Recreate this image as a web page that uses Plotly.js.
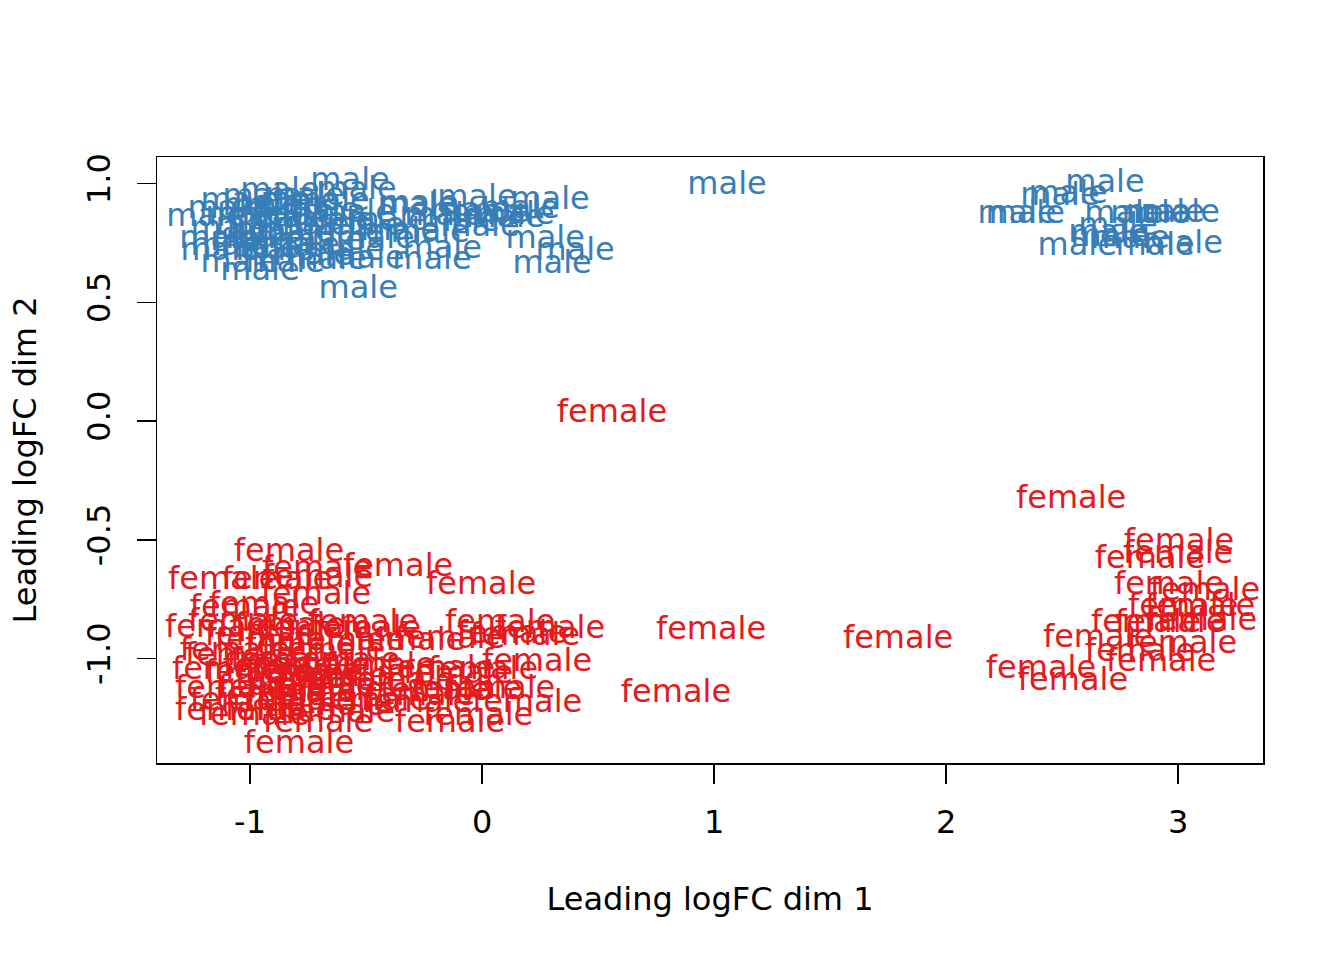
<!DOCTYPE html>
<html>
<head>
<meta charset="utf-8">
<script src="https://cdn.plot.ly/plotly-3.0.1.min.js"></script>
<style>html,body{margin:0;padding:0;background:#fff;}#chart{width:1344px;height:960px;}</style>
</head>
<body>
<div id="chart"></div>
<script>
// Leading logFC dim 1 / dim 2 positions of each sample, by sex
var maleX = [-0.569,-0.539,-0.948,-0.022,0.293,-0.280,-1.190,0.142,0.272,0.401,0.302,-0.534,-0.172,-0.216,-0.957,-1.129,-0.668,
  -1.099,-1.043,-1.134,-1.086,-1.022,-0.978,-0.935,-0.892,-0.849,-0.828,-0.806,-0.784,-0.763,-0.741,-0.698,-0.677,-0.634,-0.591,
  -0.547,-0.504,-0.461,-0.871,-0.914,-0.957,-1.0,-0.849,-0.728,-0.655,-1.043,-0.784,-0.405,-0.272,-0.164,-0.052,0.034,0.099,
  -0.095,0.164,-0.009,-0.224,-0.353,-0.504,-0.591,-1.086,-0.892,-0.784,-0.948,
  1.056,
  2.685,2.491,2.526,2.306,2.341,2.767,2.879,2.944,3.009,2.698,2.565,2.901,3.022,2.707,2.793,2.741];
var maleY = [1.005,0.967,0.937,0.933,0.925,0.899,0.853,0.862,0.761,0.710,0.655,0.550,0.718,0.672,0.626,0.710,0.672,
  0.887,0.659,0.761,0.803,0.862,0.815,0.761,0.710,0.899,0.845,0.786,0.731,0.942,0.815,0.878,0.752,0.836,0.786,
  0.870,0.815,0.761,0.963,0.857,0.718,0.752,0.659,0.689,0.921,0.921,0.921,0.836,0.908,0.857,0.878,0.870,0.849,
  0.832,0.887,0.811,0.786,0.794,0.676,0.710,0.731,0.794,0.857,0.899,
  0.988,
  0.996,0.942,0.950,0.866,0.866,0.866,0.866,0.870,0.870,0.786,0.731,0.731,0.739,0.769,0.761,0.815];

var femaleX = [2.539,3.004,3.0,2.879,2.961,3.116,3.022,3.095,2.862,3.103,2.655,3.017,2.836,2.927,2.409,2.547,2.966,
  0.560,1.793,0.987,0.836,
  -0.832,-0.362,-0.711,-1.116,-0.884,-0.707,-0.004,-0.716,-1.022,-0.940,-1.129,-1.030,-0.513,0.078,0.293,0.129,-0.138,0.185,
  0.237,0.004,-0.103,-0.065,0.078,-0.280,0.194,-0.017,-0.138,-0.789,-0.707,-0.983,-1.086,-1.099,-1.043,
  -0.914,-0.784,-0.655,-0.849,-0.720,-0.591,-0.957,-0.828,-0.698,-0.569,-0.914,-0.784,-0.655,-1.022,-0.466,-0.203,-0.500,
  -0.711,-0.828,-0.957,-0.440,-0.353,-0.871,-0.612,-1.086,-1.065,-0.569,-0.310,-0.181,-0.267,
  -0.880,-0.760,-0.640,-0.900,-0.780,-0.660];
var femaleY = [-0.334,-0.515,-0.566,-0.587,-0.696,-0.722,-0.789,-0.789,-0.856,-0.848,-0.919,-0.945,-0.978,-1.021,-1.050,-1.101,-0.856,
  0.028,-0.924,-0.886,-1.151,
  -0.557,-0.621,-0.629,-0.675,-0.675,-0.667,-0.696,-0.738,-0.793,-0.781,-0.877,-0.852,-0.856,-0.856,-0.882,-0.903,-0.924,-0.911,
  -1.021,-1.054,-1.071,-1.138,-1.134,-1.193,-1.193,-1.248,-1.277,-1.366,-1.277,-1.248,-1.134,-1.054,-0.995,
  -0.932,-0.953,-0.974,-1.016,-1.037,-1.016,-1.067,-1.092,-1.122,-1.101,-1.164,-1.185,-1.206,-1.185,-1.185,-1.143,-0.882,
  -0.882,-0.869,-0.911,-1.037,-1.101,-1.227,-1.235,-1.227,-0.974,-0.932,-0.932,-1.050,-1.164,
  -1.040,-1.060,-1.080,-1.130,-1.150,-1.140];

var xTicks = [-1, 0, 1, 2, 3];
var xTickText = ['-1', '0', '1', '2', '3'];
var yTicks = [-1, -0.5, 0, 0.5, 1];
var yTickText = ['-1.0', '-0.5', '0.0', '0.5', '1.0'];

var FONT = 'DejaVu Sans, sans-serif';
var FS = 32;

function labelTrace(xs, ys, word, color) {
  return {
    x: xs, y: ys, type: 'scatter', mode: 'text',
    text: xs.map(function(){ return word; }),
    textposition: 'middle center',
    textfont: {family: FONT, size: FS, color: color},
    hoverinfo: 'skip', showlegend: false, cliponaxis: false
  };
}

var data = [
  labelTrace(maleX, maleY, 'male', '#377EB8'),
  labelTrace(femaleX, femaleY, 'female', '#E41A1C')
];

var layout = {
  width: 1344, height: 960,
  paper_bgcolor: '#ffffff', plot_bgcolor: '#ffffff',
  margin: {l: 157, r: 81, t: 157, b: 197, pad: 0},
  font: {family: FONT, size: FS, color: '#000000'},
  showlegend: false,
  xaxis: {
    range: [-1.401, 3.366], autorange: false,
    tickmode: 'array', tickvals: xTicks, ticktext: xTickText,
    ticks: 'outside', ticklen: 19, tickwidth: 1.5, tickcolor: '#000',
    ticklabelstandoff: 11,
    showline: true, mirror: true, linecolor: '#000', linewidth: 1.5,
    showgrid: false, zeroline: false,
    tickfont: {family: FONT, size: FS, color: '#000'},
    title: {text: 'Leading logFC dim 1', font: {family: FONT, size: FS, color: '#000'}, standoff: 47},
    automargin: false
  },
  yaxis: {
    range: [-1.44, 1.1116], autorange: false,
    tickmode: 'array', tickvals: yTicks, ticktext: yTickText,
    tickangle: -90,
    ticks: 'outside', ticklen: 19, tickwidth: 1.5, tickcolor: '#000',
    ticklabelstandoff: 14,
    showline: true, mirror: true, linecolor: '#000', linewidth: 1.5,
    showgrid: false, zeroline: false,
    tickfont: {family: FONT, size: FS, color: '#000'},
    title: {text: 'Leading logFC dim 2', font: {family: FONT, size: FS, color: '#000'}, standoff: 33},
    automargin: false
  }
};

Plotly.newPlot('chart', data, layout, {displayModeBar: false, staticPlot: true});
</script>
</body>
</html>
